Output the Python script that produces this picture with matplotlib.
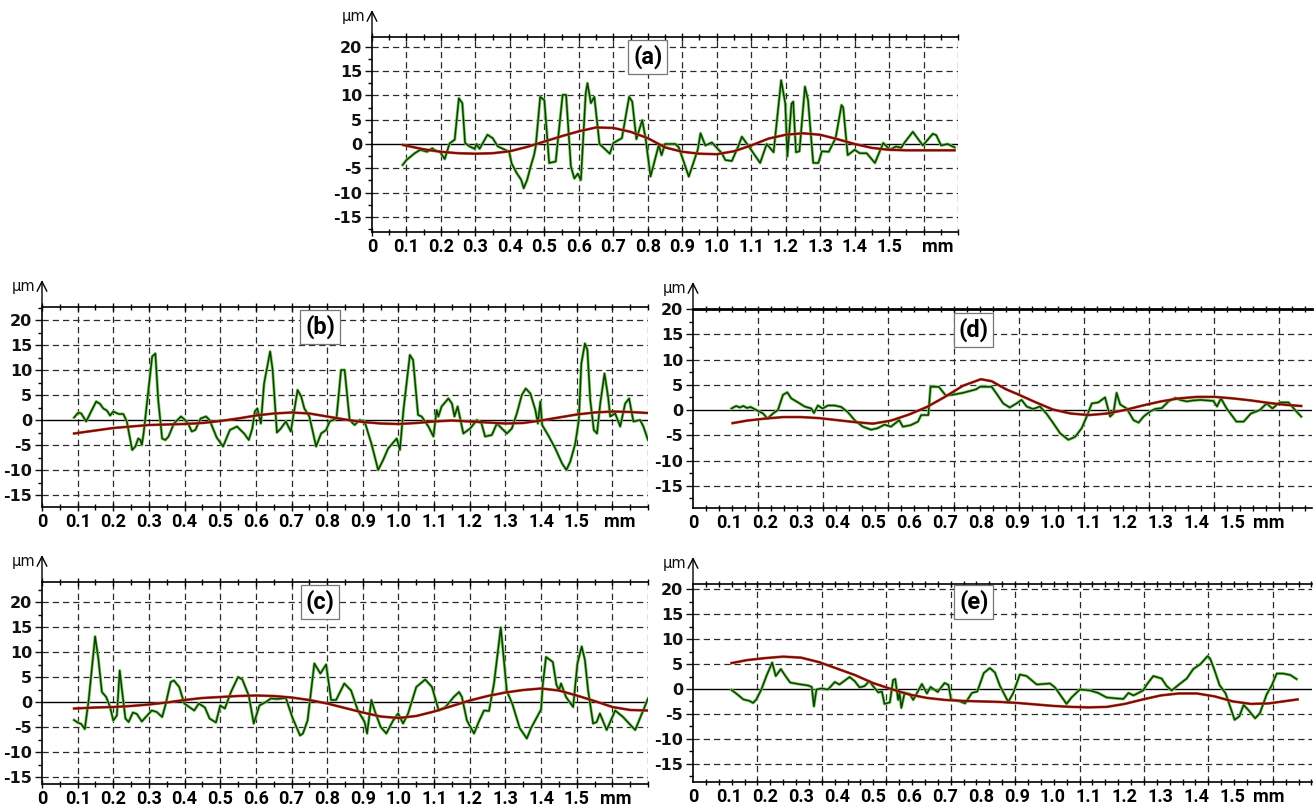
import matplotlib.pyplot as plt
import numpy as np

plt.rcParams['axes.unicode_minus'] = False

# ---- profile data: x in mm, z in um ----
# (a)
a_x = [0.089, 0.10, 0.124, 0.14, 0.16, 0.175, 0.185, 0.197, 0.211, 0.225, 0.24, 0.252, 0.262, 0.27,
       0.283, 0.298, 0.303, 0.312, 0.335, 0.35, 0.365, 0.38, 0.398, 0.405, 0.42, 0.433, 0.44, 0.45,
       0.46, 0.47, 0.475, 0.488, 0.50, 0.514, 0.533, 0.553, 0.563, 0.577, 0.587, 0.597, 0.606, 0.62,
       0.625, 0.635, 0.645, 0.66, 0.69, 0.70, 0.725, 0.746, 0.755, 0.767, 0.784, 0.794, 0.808, 0.832,
       0.84, 0.85, 0.88, 0.89, 0.919, 0.945, 0.953, 0.967, 0.986, 1.015, 1.025, 1.044, 1.063, 1.073,
       1.092, 1.126, 1.145, 1.165, 1.187, 1.199, 1.205, 1.217, 1.222, 1.23, 1.24, 1.256, 1.265, 1.28,
       1.295, 1.305, 1.325, 1.345, 1.362, 1.367, 1.38, 1.40, 1.415, 1.435, 1.459, 1.483, 1.503, 1.52,
       1.535, 1.545, 1.569, 1.598, 1.627, 1.637, 1.651, 1.67, 1.69]
a_z = [-4.3, -3.3, -1.9, -1.2, -1.6, -0.9, -1.4, -1.6, -3.1, 0.1, 0.9, 9.4, 8.4, 0.2,
       -0.5, -1.0, 0.0, -1.0, 1.9, 1.2, -0.5, -1.0, -1.6, -4.0, -6.0, -7.4, -9.1, -7.4,
       -4.7, -2.3, -0.5, 9.7, 9.0, -3.9, -3.6, 10.1, 10.1, -4.6, -7.1, -6.1, -7.4, 10.4,
       12.5, 8.4, 9.7, 0.0, -2.0, 0.2, 1.2, 9.7, 8.7, 1.0, 4.9, 1.0, -6.7, -0.2,
       -2.3, 0.0, 0.0, -0.7, -6.7, -1.2, 2.2, -0.3, 0.3, -1.9, -3.3, -3.5, -0.4, 1.5,
       -0.4, -3.9, 0.0, -1.7, 13.1, 8.3, -2.6, 8.3, 8.7, -1.7, -1.5, 11.8, 9.0, -3.9,
       -3.9, -1.5, -1.6, 1.2, 8.0, 7.5, -2.3, -1.2, -1.9, -1.9, -3.9, 0.2, -1.2, -0.5,
       -0.8, 0.3, 2.5, -0.3, 2.1, 1.8, -0.3, 0.0, -0.7]
a_wx = [0.09, 0.15, 0.2, 0.25, 0.3, 0.35, 0.4, 0.45, 0.5, 0.55, 0.6, 0.65, 0.7, 0.75, 0.8, 0.85,
        0.9, 0.95, 1.0, 1.05, 1.1, 1.15, 1.2, 1.25, 1.3, 1.35, 1.4, 1.45, 1.5, 1.55, 1.6, 1.65, 1.69]
a_wz = [-0.2, -1.1, -1.6, -1.9, -2.0, -1.9, -1.5, -0.6, 0.5, 1.6, 2.6, 3.4, 3.3, 2.5, 1.2, -0.7,
        -1.6, -2.0, -2.1, -1.5, -0.3, 1.1, 1.9, 2.2, 1.9, 1.0, 0.0, -0.8, -1.2, -1.3, -1.3, -1.3, -1.3]

# (b)
b_x = [0.090, 0.102, 0.110, 0.124, 0.135, 0.152, 0.163, 0.172, 0.182, 0.191, 0.200, 0.215, 0.228,
       0.238, 0.253, 0.262, 0.270, 0.276, 0.280, 0.285, 0.309, 0.318, 0.326, 0.337, 0.346, 0.355,
       0.370, 0.390, 0.400, 0.410, 0.420, 0.430, 0.445, 0.460, 0.470, 0.490, 0.508, 0.527, 0.547,
       0.567, 0.580, 0.590, 0.597, 0.604, 0.614, 0.623, 0.640, 0.647, 0.659, 0.670, 0.684, 0.698,
       0.717, 0.727, 0.736, 0.750, 0.769, 0.783, 0.797, 0.807, 0.826, 0.839, 0.849, 0.863, 0.877,
       0.891, 0.905, 0.924, 0.943, 0.957, 0.971, 0.995, 1.004, 1.014, 1.032, 1.041, 1.055, 1.065,
       1.084, 1.098, 1.107, 1.112, 1.121, 1.140, 1.150, 1.157, 1.166, 1.182, 1.201, 1.220, 1.233,
       1.243, 1.262, 1.276, 1.290, 1.304, 1.318, 1.332, 1.346, 1.357, 1.370, 1.384, 1.391, 1.398,
       1.403, 1.422, 1.440, 1.459, 1.471, 1.482, 1.496, 1.506, 1.513, 1.523, 1.530, 1.538, 1.548,
       1.557, 1.566, 1.578, 1.588, 1.594, 1.608, 1.622, 1.636, 1.647, 1.659, 1.678, 1.687, 1.700]
b_z = [0.5, 1.5, 1.3, -0.3, 1.3, 3.7, 3.2, 2.3, 1.9, 0.9, 1.7, 1.2, 1.2,
       -0.3, -6.0, -5.3, -3.7, -4.0, -5.0, -2.7, 12.7, 13.3, 4.0, -3.7, -4.0, -3.3,
       -0.7, 0.7, 0.1, -0.7, -2.3, -2.0, 0.3, 0.7, 0.0, -3.5, -5.3, -2.0, -1.3,
       -2.7, -4.0, -1.7, 1.7, 2.3, -0.7, 7.3, 13.7, 10.0, -2.5, -1.7, -0.3, -2.3,
       6.0, 4.7, 2.3, 0.7, -5.3, -2.7, -2.0, -0.3, 0.3, 10.0, 10.0, 0.0, -1.0,
       0.0, -0.3, -4.7, -10.0, -8.0, -5.7, -3.7, -6.0, 2.0, 13.0, 12.0, 1.0, 0.7,
       -1.3, -3.3, 2.0, 0.7, 2.7, 4.3, 3.3, 0.7, 2.7, -2.7, -1.7, 0.0, -0.7,
       -3.3, -3.0, -0.7, -1.7, -2.7, -1.7, 1.3, 5.0, 6.3, 5.3, 2.0, -0.7, 3.7,
       -1.0, -3.3, -5.7, -8.7, -10.0, -8.3, -4.7, 0.0, 11.3, 15.3, 14.0, 4.0, -2.0,
       -2.7, 3.3, 9.3, 4.7, 0.7, 1.3, -1.3, 3.3, 4.3, -0.3, 0.0, -1.3, -4.0]
b_wx = [0.09, 0.15, 0.2, 0.25, 0.3, 0.35, 0.4, 0.45, 0.5, 0.55, 0.6, 0.65, 0.7, 0.75, 0.8, 0.85,
        0.9, 0.95, 1.0, 1.05, 1.1, 1.15, 1.2, 1.25, 1.3, 1.35, 1.4, 1.45, 1.5, 1.55, 1.6, 1.65, 1.70]
b_wz = [-2.7, -2.1, -1.6, -1.3, -1.0, -0.9, -0.8, -0.6, -0.2, 0.3, 0.9, 1.3, 1.5, 1.3, 0.7, 0.1,
        -0.4, -0.7, -0.8, -0.6, -0.3, -0.1, -0.3, -0.5, -0.7, -0.6, -0.1, 0.5, 1.1, 1.5, 1.7, 1.6, 1.4]

# (c)
c_x = [0.090, 0.100, 0.110, 0.120, 0.131, 0.149, 0.158, 0.168, 0.180, 0.191, 0.200, 0.210, 0.218,
       0.225, 0.234, 0.243, 0.255, 0.266, 0.280, 0.295, 0.308, 0.322, 0.337, 0.346, 0.361, 0.370,
       0.385, 0.399, 0.413, 0.427, 0.440, 0.457, 0.470, 0.488, 0.500, 0.513, 0.530, 0.550, 0.562,
       0.580, 0.594, 0.610, 0.628, 0.642, 0.660, 0.684, 0.703, 0.724, 0.732, 0.745, 0.764, 0.781,
       0.797, 0.811, 0.825, 0.848, 0.867, 0.886, 0.905, 0.912, 0.924, 0.933, 0.950, 0.966, 0.985,
       0.999, 1.013, 1.027, 1.050, 1.075, 1.094, 1.113, 1.132, 1.155, 1.170, 1.178, 1.192, 1.212,
       1.225, 1.240, 1.254, 1.268, 1.287, 1.304, 1.320, 1.340, 1.360, 1.372, 1.400, 1.405, 1.414,
       1.433, 1.443, 1.450, 1.456, 1.470, 1.490, 1.502, 1.514, 1.523, 1.532, 1.546, 1.556, 1.565,
       1.584, 1.608, 1.630, 1.664, 1.683, 1.700]
c_z = [-3.6, -4.1, -4.4, -5.4, 0.4, 13.1, 8.7, 2.0, 1.0, -1.0, -3.7, -2.7, 6.3,
       2.0, -3.3, -4.0, -2.1, -2.4, -3.9, -2.7, -1.7, -2.0, -3.0, -0.7, 4.0, 4.3,
       3.0, -0.3, -1.0, -1.7, -0.3, -1.1, -3.3, -4.1, -0.7, -1.3, 2.0, 5.0, 4.5,
       1.3, -4.3, -0.7, 0.0, 0.7, 0.6, 0.8, -3.2, -6.7, -6.3, -3.7, 7.7, 5.7,
       7.5, 0.4, 0.4, 3.7, 2.3, -1.7, -4.0, -6.3, 0.4, -1.7, -5.0, -6.3, -3.7,
       -2.3, -4.3, -2.3, 3.0, 4.5, 3.0, -1.7, -1.0, 1.0, 2.0, 1.0, -3.7, -6.3,
       -4.0, -1.7, -1.8, 3.7, 14.9, 2.2, -0.5, -5.2, -7.3, -5.2, -1.5, 3.6, 9.0,
       8.0, 3.5, 2.3, 3.7, 1.0, -1.0, 7.7, 11.1, 8.4, 2.3, -4.3, -4.0, -2.3,
       -5.6, -1.7, -3.0, -5.6, -2.3, 0.7]
c_wx = [0.09, 0.15, 0.2, 0.25, 0.3, 0.35, 0.4, 0.45, 0.5, 0.55, 0.6, 0.65, 0.7, 0.75, 0.8, 0.85,
        0.9, 0.95, 1.0, 1.05, 1.1, 1.15, 1.2, 1.25, 1.3, 1.35, 1.4, 1.45, 1.5, 1.55, 1.6, 1.65, 1.70]
c_wz = [-1.3, -1.1, -1.0, -0.8, -0.5, -0.1, 0.4, 0.8, 1.0, 1.2, 1.3, 1.2, 0.9, 0.4, -0.3, -1.2,
        -2.1, -2.9, -3.2, -2.8, -1.9, -0.8, 0.3, 1.2, 1.9, 2.4, 2.7, 2.3, 1.3, 0.2, -1.0, -1.6, -1.7]

# (d)
d_x = [0.107, 0.120, 0.130, 0.140, 0.150, 0.160, 0.176, 0.195, 0.207, 0.222, 0.236, 0.250, 0.262,
       0.273, 0.292, 0.310, 0.329, 0.336, 0.347, 0.360, 0.375, 0.393, 0.412, 0.430, 0.449, 0.472,
       0.495, 0.513, 0.532, 0.550, 0.573, 0.583, 0.605, 0.625, 0.634, 0.654, 0.660, 0.683, 0.702,
       0.720, 0.750, 0.787, 0.797, 0.830, 0.843, 0.862, 0.880, 0.899, 0.913, 0.927, 0.945, 0.964,
       0.982, 1.001, 1.020, 1.043, 1.062, 1.080, 1.094, 1.108, 1.126, 1.145, 1.159, 1.168, 1.177,
       1.187, 1.205, 1.224, 1.238, 1.252, 1.270, 1.284, 1.303, 1.321, 1.340, 1.354, 1.372, 1.390,
       1.410, 1.428, 1.446, 1.456, 1.467, 1.483, 1.510, 1.530, 1.550, 1.575, 1.594, 1.610, 1.630,
       1.655, 1.673, 1.690]
d_z = [0.3, 0.8, 0.5, 0.8, 0.4, 0.6, 0.0, -0.7, -1.7, -0.7, 0.0, 3.0, 3.5,
       2.3, 1.5, 0.7, 0.3, -0.6, 0.9, 0.3, 0.9, 0.9, 0.6, -0.4, -2.0, -3.3,
       -3.9, -3.6, -2.9, -3.3, -2.0, -3.3, -3.0, -2.3, -1.0, -1.0, 4.6, 4.6, 2.9,
       3.0, 3.4, 4.1, 4.6, 4.6, 3.3, 1.3, 0.5, 1.3, 2.0, 0.7, 0.2, 0.7,
       -0.7, -2.6, -4.6, -5.9, -5.3, -3.6, -1.3, 1.3, 1.5, 2.5, -1.3, -0.7, 3.4,
       1.1, 0.3, -2.0, -2.5, -1.3, -0.3, 0.2, 0.4, 1.7, 2.4, 2.0, 1.7, 1.9,
       2.0, 1.9, 1.8, 0.7, 2.3, 0.3, -2.3, -2.3, -0.7, 0.0, 1.3, 0.3, 1.5,
       1.5, 0.0, -1.3]
d_wx = [0.11, 0.15, 0.2, 0.25, 0.3, 0.35, 0.4, 0.45, 0.5, 0.55, 0.6, 0.65, 0.7, 0.75, 0.8, 0.83,
        0.87, 0.9, 0.95, 1.0, 1.05, 1.1, 1.15, 1.2, 1.25, 1.3, 1.35, 1.4, 1.45, 1.5, 1.55, 1.6,
        1.65, 1.69]
d_wz = [-2.6, -2.1, -1.7, -1.4, -1.4, -1.6, -2.0, -2.4, -2.7, -2.1, -0.9, 0.6, 2.6, 4.8, 6.1, 5.7,
        4.1, 3.2, 1.6, 0.1, -0.7, -1.0, -0.7, 0.0, 0.9, 1.7, 2.3, 2.6, 2.6, 2.3, 1.9, 1.4,
        1.0, 0.8]

# (e)
e_x = [0.107, 0.120, 0.140, 0.157, 0.167, 0.176, 0.190, 0.204, 0.220, 0.230, 0.244, 0.257, 0.270,
       0.292, 0.320, 0.330, 0.336, 0.343, 0.357, 0.375, 0.394, 0.407, 0.420, 0.435, 0.449, 0.463,
       0.477, 0.490, 0.500, 0.515, 0.525, 0.532, 0.547, 0.556, 0.562, 0.570, 0.574, 0.579, 0.588,
       0.602, 0.612, 0.636, 0.650, 0.660, 0.680, 0.699, 0.710, 0.717, 0.738, 0.756, 0.775, 0.790,
       0.808, 0.825, 0.839, 0.853, 0.876, 0.890, 0.908, 0.927, 0.955, 0.992, 1.006, 1.038, 1.052,
       1.075, 1.103, 1.126, 1.149, 1.177, 1.196, 1.210, 1.224, 1.251, 1.260, 1.279, 1.302, 1.316,
       1.330, 1.354, 1.372, 1.390, 1.410, 1.430, 1.437, 1.449, 1.463, 1.480, 1.505, 1.518, 1.530,
       1.544, 1.562, 1.575, 1.594, 1.608, 1.622, 1.640, 1.660, 1.677]
e_z = [-0.2, -0.9, -2.1, -2.4, -2.8, -2.1, -0.1, 2.6, 5.3, 2.6, 4.0, 2.6, 1.3,
       1.0, 0.7, 0.4, -3.5, -0.1, 0.1, -0.1, 1.4, 0.9, 1.6, 2.4, 1.6, 0.3,
       0.6, 1.6, 0.6, -0.7, -0.5, -3.0, -2.7, 1.8, 2.0, -2.2, -0.8, -3.8, -0.8,
       -1.0, -2.2, 1.0, -0.9, 0.4, -0.6, 1.2, 0.8, -2.1, -2.4, -2.9, -0.8, -0.5,
       3.2, 4.2, 3.3, 0.6, -2.6, -0.8, 2.9, 2.6, 0.9, 1.1, 0.3, -3.0, -1.7,
       -0.1, -0.3, -0.8, -1.7, -1.9, -2.0, -0.8, -1.3, -0.3, 0.8, 2.6, 2.1, 0.6,
       -0.3, 1.1, 2.1, 4.0, 5.0, 6.6, 6.1, 3.8, 0.8, -0.9, -6.2, -5.5, -3.2,
       -4.3, -5.9, -4.9, -1.1, 0.7, 3.1, 3.1, 2.8, 2.0]
e_wx = [0.107, 0.15, 0.2, 0.25, 0.3, 0.35, 0.4, 0.45, 0.5, 0.55, 0.6, 0.65, 0.7, 0.75, 0.8, 0.85,
        0.9, 0.95, 1.0, 1.05, 1.1, 1.15, 1.2, 1.25, 1.3, 1.35, 1.4, 1.45, 1.5, 1.55, 1.6, 1.65, 1.68]
e_wz = [5.2, 5.8, 6.2, 6.5, 6.3, 5.4, 4.1, 2.8, 1.2, 0.0, -1.1, -1.8, -2.2, -2.4, -2.5, -2.6,
        -2.8, -3.1, -3.4, -3.6, -3.7, -3.6, -3.0, -2.1, -1.3, -0.9, -0.9, -1.5, -2.5, -3.0, -2.9, -2.4, -2.1]

ytick_vals = [20, 15, 10, 5, 0, -5, -10, -15]
ytick_text = ['20', '15', '10', '5', '0', '-5', '-10', '-15']
xtick_vals = [0, 0.1, 0.2, 0.3, 0.4, 0.5, 0.6, 0.7, 0.8, 0.9, 1.0, 1.1, 1.2, 1.3, 1.4, 1.5]
xtick_text = ['0', '0.1', '0.2', '0.3', '0.4', '0.5', '0.6', '0.7', '0.8', '0.9',
              '1.0', '1.1', '1.2', '1.3', '1.4', '1.5']

W, H = 1315, 809
fig = plt.figure(figsize=(W / 100, H / 100), dpi=100)

GRID = dict(color='#2a2a2a', lw=0.9, dashes=(5, 3.2), zorder=1)
XFONT = dict(fontfamily='Roboto', fontweight='bold', fontsize=13)


def panel(box, px, pz, wx, wz, tag, ylim, xmax, tag_pos, mm_x, vstep=None, top_lw=1.2):
    l, t, r, b = box
    ax = fig.add_axes([l / W, 1 - b / H, (r - l) / W, (b - t) / H])
    ax.set_xlim(0, xmax)
    ax.set_ylim(*ylim)

    # dashed grid
    for v in ytick_vals:
        if v != 0 and v < ylim[1]:
            ax.axhline(v, **GRID)
    if vstep is None:
        vlines = np.arange(1, 18) * 0.1
    else:
        vlines = np.arange(1, 10) * vstep
    for g in vlines:
        ax.axvline(g, **GRID)
    ax.axhline(0, color='k', lw=1.0, zorder=2)

    # roughness profile and waviness line
    ax.plot(px, pz, color='#7ad456', lw=2.2, zorder=3)
    ax.plot(px, pz, color='#123a12', lw=1.1, zorder=4)
    ax.plot(wx, wz, color='#d8542c', lw=2.0, zorder=5)
    ax.plot(wx, wz, color='#700c0c', lw=1.3, zorder=6)

    for s in ['left', 'bottom']:
        ax.spines[s].set_linewidth(1.2)
    ax.spines['top'].set_linewidth(top_lw)
    ax.spines['right'].set_visible(False)

    ax.set_yticks(ytick_vals)
    ax.set_yticklabels(ytick_text, fontfamily='DejaVu Sans', fontweight='bold', fontsize=11.5)
    ax.set_yticks([v + 2.5 for v in [-20] + ytick_vals if ylim[0] < v + 2.5 < ylim[1]], minor=True)
    ax.tick_params(axis='y', which='major', direction='out', length=5, width=1, pad=2, colors='#111')
    ax.tick_params(axis='y', which='minor', direction='out', length=3, width=1)

    ax.set_xticks(xtick_vals)
    ax.set_xticklabels(xtick_text, **XFONT)
    if vstep is None:
        ax.set_xticks(np.arange(1, 35) * 0.05, minor=True)
        ax.tick_params(axis='x', which='major', top=True, bottom=True, direction='inout',
                       length=6, width=1, pad=1.5)
        ax.tick_params(axis='x', which='minor', top=True, bottom=True, direction='inout',
                       length=4, width=1)
    else:
        ax.set_xticks(np.arange(1, 50) * vstep / 5, minor=True)
        ax.tick_params(axis='x', which='major', length=0, pad=4.5)
        ax.tick_params(axis='x', which='minor', top=True, bottom=True, direction='inout',
                       length=5, width=1)
    ax.set_xlim(0, xmax)

    ax.annotate('mm', xy=(mm_x, 0), xycoords=('data', 'axes fraction'),
                xytext=(0, -4.5), textcoords='offset points', ha='center', va='top', **XFONT)

    # y axis arrow with unit
    tip = 1 + 27 / (b - t)
    ax.annotate('', xy=(0, tip), xycoords='axes fraction', xytext=(0, 1),
                textcoords='axes fraction',
                arrowprops=dict(arrowstyle='->,head_length=0.5,head_width=0.25', lw=1.0,
                                color='k', shrinkA=0, shrinkB=0, mutation_scale=14))
    ax.annotate('µm', xy=(0, tip), xycoords='axes fraction', xytext=(-5, -5),
                textcoords='offset points', ha='right', va='center',
                fontfamily='DejaVu Sans', fontsize=10.5, color='#111')

    ax.text(tag_pos[0], tag_pos[1], tag, ha='center', va='center', fontfamily='Roboto',
            fontweight='bold', fontsize=17, zorder=8,
            bbox=dict(boxstyle='square,pad=0.2', fc='white', ec='#777777', lw=0.9))
    return ax


panel((372, 37, 958, 232), a_x, a_z, a_wx, a_wz, '(a)', (-18.1, 22.0), 1.70, (0.80, 17.9), 1.64)
panel((42, 307, 648, 507), b_x, b_z, b_wx, b_wz, '(b)', (-17.4, 22.6), 1.70, (0.78, 18.6), 1.62)
panel((42, 582, 648, 784), c_x, c_z, c_wx, c_wz, '(c)', (-16.4, 24.0), 1.70, (0.78, 20.0), 1.61)
panel((693, 309, 1312, 508), d_x, d_z, d_wx, d_wz, '(d)', (-19.4, 20.0), 1.72, (0.78, 15.8), 1.60,
      vstep=0.181, top_lw=2.0)
panel((693, 584, 1312, 782), e_x, e_z, e_wx, e_wz, '(e)', (-18.7, 21.1), 1.72, (0.78, 17.5), 1.60,
      vstep=0.179)

fig.savefig('out.png', dpi=100)
